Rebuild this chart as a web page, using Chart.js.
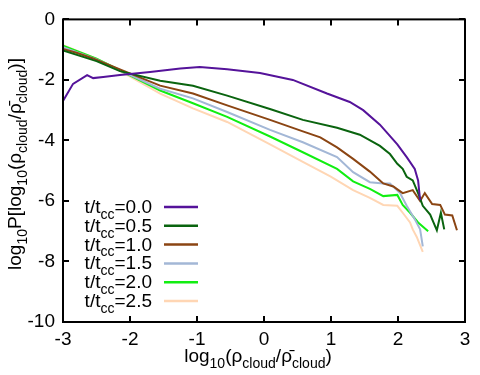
<!DOCTYPE html>
<html>
<head>
<meta charset="utf-8">
<script src="https://cdn.jsdelivr.net/npm/chart.js@4/dist/chart.umd.min.js"></script>
<style>
html,body{margin:0;padding:0;background:#fff}
#c{display:block}
</style>
</head>
<body>
<canvas id="c" width="480" height="375"></canvas>
<script>
// series: x = log10(rho/rhobar), y = log10 P
const x00=[-3,-2.85,-2.64,-2.55,-2.4,-2.15,-1.7,-1.25,-0.96,-0.55,-0.06,0.43,0.94,1.28,1.48,1.73,1.99,2.13,2.25,2.3,2.33];
const y00=[-2.7,-2.13,-1.84,-1.94,-1.9,-1.84,-1.74,-1.62,-1.57,-1.65,-1.77,-2.0,-2.45,-2.73,-3.0,-3.48,-4.13,-4.55,-4.94,-5.32,-5.97];
const x05=[-3,-2.5,-2.15,-1.55,-1.06,-0.55,0.1,0.58,1.09,1.43,1.73,1.88,1.99,2.07,2.13,2.22,2.3,2.37,2.48,2.58,2.64,2.69];
const y05=[-1.03,-1.38,-1.71,-2.03,-2.19,-2.52,-2.97,-3.32,-3.58,-3.81,-4.18,-4.45,-4.77,-4.94,-5.2,-5.32,-5.74,-6.16,-6.45,-6.97,-6.39,-6.94];
const x10=[-3,-2.8,-2.55,-2.15,-1.55,-1.06,-0.55,0.09,0.58,0.84,1.09,1.33,1.58,1.73,1.78,1.93,2.07,2.22,2.33,2.4,2.51,2.63,2.7,2.81,2.88];
const y10=[-0.98,-1.1,-1.29,-1.65,-2.19,-2.45,-2.84,-3.32,-3.7,-3.9,-4.23,-4.61,-5.03,-5.32,-5.42,-5.52,-5.74,-5.64,-6.0,-5.74,-6.1,-6.13,-6.45,-6.48,-6.97];
const x15=[-3,-2.5,-2.15,-1.55,-1.06,-0.55,0.09,0.58,1.09,1.33,1.58,1.78,1.88,2.03,2.13,2.25,2.33,2.37];
const y15=[-0.92,-1.32,-1.68,-2.29,-2.61,-3.06,-3.65,-4.06,-4.55,-5.05,-5.38,-5.42,-5.42,-5.74,-6.16,-6.6,-6.94,-7.5];
const x20=[-3,-2.5,-2.15,-1.55,-1.06,-0.55,0.09,0.58,1.09,1.33,1.58,1.78,1.99,2.07,2.18,2.3,2.45];
const y20=[-0.87,-1.3,-1.68,-2.35,-2.77,-3.22,-3.87,-4.39,-4.94,-5.35,-5.6,-5.84,-5.8,-6.13,-6.39,-6.71,-7.0];
const x25=[-3,-2.5,-2.15,-1.55,-1.06,-0.55,0.09,0.58,0.99,1.33,1.58,1.78,1.99,2.07,2.18,2.22,2.28,2.37];
const y25=[-0.85,-1.3,-1.7,-2.45,-2.94,-3.39,-4.13,-4.71,-5.19,-5.64,-5.9,-6.13,-6.16,-6.39,-6.71,-6.94,-7.19,-7.68];
const times=["0.0","0.5","1.0","1.5","2.0","2.5"];
const xTicks=[-3,-2,-1,0,1,2,3];
const yTicks=[0,-2,-4,-6,-8,-10];

const colors=["#55139a","#0a640f","#8b4513","#a3b7d6","#11ee11","#ffd6b4"];
const FONT='"Liberation Sans", Arial, sans-serif';
const FS=19;
const pts=(xs,ys)=>xs.map((x,i)=>({x,y:ys[i]}));
const series=[[x00,y00],[x05,y05],[x10,y10],[x15,y15],[x20,y20],[x25,y25]];

// draw text runs with subscripts; returns width
function rich(ctx,runs,x,y,size,measureOnly){
  let w=0;
  runs.forEach(r=>{
    const s=r.sub?size*0.74:size;
    ctx.font=`${s}px ${FONT}`;
    if(!measureOnly)ctx.fillText(r.t,x+w,y+(r.sub?size*0.3:0));
    w+=ctx.measureText(r.t).width;
  });
  return w;
}

const yTitle=[{t:"log"},{t:"10",sub:1},{t:"P[log"},{t:"10",sub:1},{t:"(ρ"},{t:"cloud",sub:1},{t:"/ρ̄"},{t:"cloud",sub:1},{t:")]"}];
const xTitle=[{t:"log"},{t:"10",sub:1},{t:"(ρ"},{t:"cloud",sub:1},{t:"/ρ̄"},{t:"cloud",sub:1},{t:")"}];

const decor={
  id:"decor",
  afterDraw(ch){
    const ctx=ch.ctx, a=ch.chartArea, sx=ch.scales.x, sy=ch.scales.y;
    ctx.save();
    ctx.strokeStyle="#000"; ctx.lineWidth=2;
    ctx.strokeRect(a.left,a.top,a.right-a.left,a.bottom-a.top);
    ctx.beginPath();
    xTicks.forEach(v=>{const p=Math.round(sx.getPixelForValue(v));
      ctx.moveTo(p,a.bottom);ctx.lineTo(p,a.bottom-6);ctx.moveTo(p,a.top);ctx.lineTo(p,a.top+6);});
    yTicks.forEach(v=>{const p=Math.round(sy.getPixelForValue(v));
      ctx.moveTo(a.left,p);ctx.lineTo(a.left+6,p);ctx.moveTo(a.right,p);ctx.lineTo(a.right-6,p);});
    ctx.stroke();
    ctx.fillStyle="#000"; ctx.textBaseline="alphabetic"; ctx.textAlign="left";
    // x title
    let w=rich(ctx,xTitle,0,0,FS,true);
    rich(ctx,xTitle,258-w/2,362,FS);
    // y title
    ctx.save(); ctx.translate(21,164); ctx.rotate(-Math.PI/2);
    w=rich(ctx,yTitle,0,0,FS,true);
    rich(ctx,yTitle,-w/2,0,FS);
    ctx.restore();
    // legend
    times.forEach((t,i)=>{
      const ly=207+i*18.8;
      const runs=[{t:"t/t"},{t:"cc",sub:1},{t:"="+t}];
      const tw=rich(ctx,runs,0,0,FS,true);
      rich(ctx,runs,152-tw,ly+6,FS);
      ctx.strokeStyle=colors[i]; ctx.lineWidth=2.5;
      ctx.beginPath(); ctx.moveTo(164,ly); ctx.lineTo(198,ly); ctx.stroke();
    });
    ctx.restore();
  }
};

new Chart(document.getElementById("c"),{
  type:"line",
  data:{datasets:series.map((s,i)=>({label:"t/tcc="+times[i],data:pts(s[0],s[1]),borderColor:colors[i],borderWidth:2,pointRadius:0,tension:0,fill:false}))},
  options:{
    responsive:false,animation:false,
    layout:{padding:{top:12,right:15,left:0,bottom:0}},
    plugins:{legend:{display:false},tooltip:{enabled:false}},
    scales:{
      x:{type:"linear",min:-3,max:3,
        afterFit:s=>{s.height=53},
        afterBuildTicks:s=>{s.ticks=xTicks.map(v=>({value:v}))},
        grid:{display:false,drawTicks:false},border:{display:false},
        ticks:{color:"#000",padding:6,font:{size:FS,family:FONT},maxRotation:0}},
      y:{type:"linear",min:-10,max:0,
        afterFit:s=>{s.width=63},
        afterBuildTicks:s=>{s.ticks=yTicks.map(v=>({value:v}))},
        grid:{display:false,drawTicks:false},border:{display:false},
        ticks:{color:"#000",padding:8,font:{size:FS,family:FONT}}}
    }
  },
  plugins:[decor]
});
</script>
</body>
</html>
